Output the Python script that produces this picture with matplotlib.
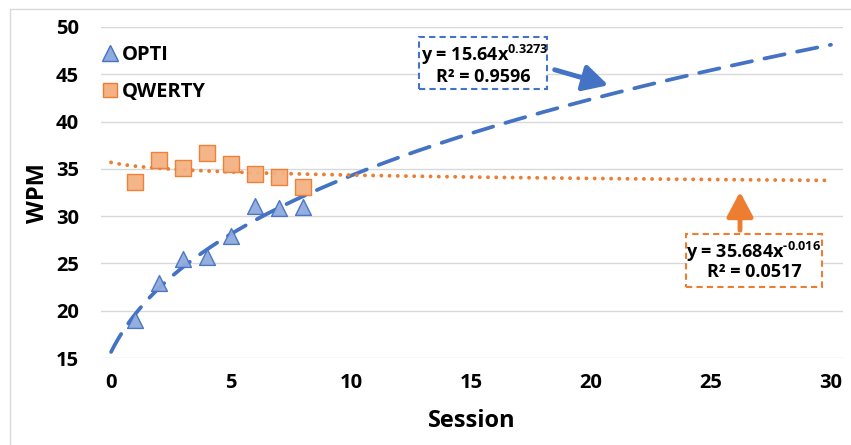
import numpy as np
import matplotlib
matplotlib.use("Agg")
import matplotlib.pyplot as plt
from matplotlib.patches import Rectangle, FancyArrowPatch
from matplotlib.lines import Line2D

plt.rcParams['font.family'] = ['Open Sans', 'DejaVu Sans']
plt.rcParams['font.weight'] = 'bold'
plt.rcParams['mathtext.fontset'] = 'custom'
plt.rcParams['mathtext.rm'] = 'Open Sans:bold'
plt.rcParams['mathtext.bf'] = 'Open Sans:bold'
plt.rcParams['mathtext.it'] = 'Open Sans:bold'

# ---- data ----
sessions = [1, 2, 3, 4, 5, 6, 7, 8]
opti_wpm = [19.0, 22.9, 25.5, 25.7, 27.9, 31.1, 30.9, 31.0]
qwerty_wpm = [33.6, 35.9, 35.1, 36.7, 35.5, 34.5, 34.1, 33.1]
opti_fit = (15.64, 0.3273, 0.9596)
qwerty_fit = (35.684, -0.016, 0.0517)
x_ticks = [0, 5, 10, 15, 20, 25, 30]
y_ticks = [15, 20, 25, 30, 35, 40, 45, 50]

W, H = 851, 445
fig = plt.figure(figsize=(W / 100, H / 100), dpi=100)

def fx(px):
    return px / W

def fy(py):
    return 1 - py / H

ax = fig.add_axes([fx(101), fy(358), fx(843) - fx(101), fy(27) - fy(358)])

blue = '#4472C4'
orange = '#ED7D31'

xs = np.linspace(0, 30, 400)
ax.plot(xs, opti_fit[0] * (xs + 1) ** opti_fit[1], color=blue, lw=2.7,
        dashes=(5.5, 3.4), dash_capstyle='round', zorder=3)
ax.plot(xs, qwerty_fit[0] * (xs + 1) ** qwerty_fit[1], color=orange, lw=2.8,
        dashes=(0.01, 2.1), dash_capstyle='round', zorder=3)

ax.scatter(sessions, opti_wpm, marker='^', s=130, facecolor='#8FAADC',
           edgecolor=blue, linewidth=1.0, alpha=0.95, zorder=4)
ax.scatter(sessions, qwerty_wpm, marker='s', s=130, facecolor='#F4B183',
           edgecolor=orange, linewidth=1.0, alpha=0.95, zorder=4)

ax.set_xlim(-0.42, 30.5)
ax.set_ylim(15, 50)
ax.set_xticks(x_ticks)
ax.set_yticks(y_ticks)
ax.grid(axis='y', color='#D9D9D9', lw=1.0)
ax.set_axisbelow(True)
for s in ax.spines.values():
    s.set_visible(False)
ax.tick_params(length=0, labelsize=14.5)
ax.tick_params(axis='y', pad=16)
ax.tick_params(axis='x', pad=11)
ax.set_xlabel('Session', fontsize=17, fontweight='bold')
ax.set_ylabel('WPM', fontsize=17, fontweight='bold')
ax.xaxis.set_label_coords(fx(472), fy(421), transform=fig.transFigure)
ax.yaxis.set_label_coords(fx(38), fy(193), transform=fig.transFigure)
ax.xaxis.label.set_va('center')
ax.yaxis.label.set_va('center')

# legend
leg_handles = [
    Line2D([], [], marker='^', ls='none', markersize=11, markerfacecolor='#8FAADC',
           markeredgecolor=blue),
    Line2D([], [], marker='s', ls='none', markersize=10, markerfacecolor='#F4B183',
           markeredgecolor=orange),
]
leg = ax.legend(leg_handles, ['OPTI', 'QWERTY'], loc='upper left',
                bbox_to_anchor=(fx(102), fy(45)), bbox_transform=fig.transFigure,
                frameon=False, handletextpad=0.2, handlelength=0.8,
                labelspacing=0.85, borderaxespad=0, borderpad=0,
                prop={'weight': 'bold', 'size': 14.5})

# chart border
fig.add_artist(Line2D([fx(10), fx(10)], [fy(9), 0], color='#D9D9D9', lw=1))
fig.add_artist(Line2D([fx(10), 1], [fy(9), fy(9)], color='#D9D9D9', lw=1))

# annotation boxes
def box(x0, y0, x1, y1, color):
    r = Rectangle((fx(x0), fy(y1)), fx(x1) - fx(x0), fy(y0) - fy(y1),
                  transform=fig.transFigure, facecolor='white', edgecolor=color,
                  lw=1.5, linestyle=(0, (3, 2)), zorder=5)
    fig.add_artist(r)

box(419, 37, 547, 89, blue)
fig.text(fx(421), fy(55), 'y = %.2fx$^{%.4f}$' % (opti_fit[0], opti_fit[1]),
         ha='left', va='center', fontsize=13, fontweight='bold', zorder=6)
fig.text(fx(483), fy(77), f'R² = {opti_fit[2]:.4f}', ha='center', va='center',
         fontsize=13, fontweight='bold', zorder=6)

box(686, 234, 822, 287, orange)
fig.text(fx(686), fy(252), 'y = %.3fx$^{\\text{%.3f}}$' % (qwerty_fit[0], qwerty_fit[1]),
         ha='left', va='center', fontsize=13, fontweight='bold', zorder=6)
fig.text(fx(754), fy(272), f'R² = {qwerty_fit[2]:.4f}', ha='center', va='center',
         fontsize=13, fontweight='bold', zorder=6)

# arrows
fig.add_artist(FancyArrowPatch(
    (fx(552), fy(69)), (fx(611), fy(86)), transform=fig.transFigure,
    arrowstyle='-|>,head_length=0.75,head_width=0.4', mutation_scale=20,
    color=blue, lw=3.5, zorder=6))
fig.add_artist(FancyArrowPatch(
    (fx(740), fy(233)), (fx(740), fy(189)), transform=fig.transFigure,
    arrowstyle='-|>,head_length=0.75,head_width=0.4', mutation_scale=20,
    color=orange, lw=3.5, zorder=6))

fig.savefig('out.png', dpi=100, facecolor='white')
